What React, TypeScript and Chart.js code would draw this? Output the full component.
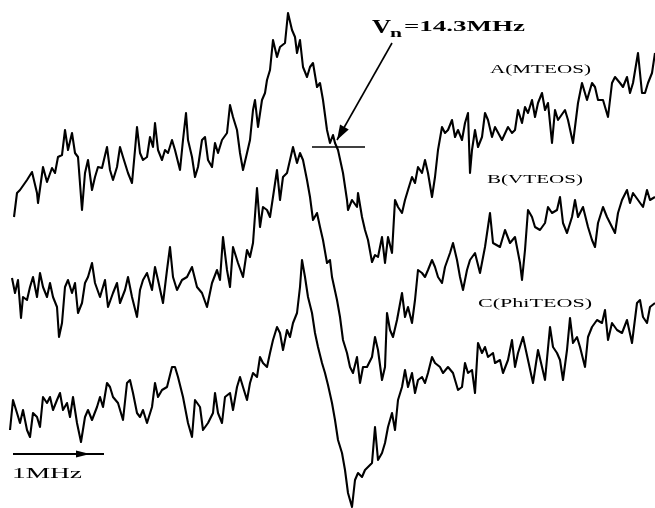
import React, { useEffect, useRef } from "react";
import { Chart, registerables } from "chart.js";

Chart.register(...registerables);

// Frequency channel (x) vs. signal amplitude in arbitrary units (y)
const traceA_MTEOS: [number, number][] = [
  [14,291],[17,315],[20,318],[27,328],[32,336],[37,315],[38,305],[43,341],[47,326],[52,340],[55,335],[58,351],[62,353],[65,378],[68,358],[72,375],[75,355],[78,351],[82,298],[85,335],[88,348],[92,318],[95,331],[98,341],[102,340],[107,361],[110,338],[113,328],[117,341],[120,361],[123,351],[128,335],[132,325],[135,358],[137,381],[140,355],[143,348],[147,351],[150,371],[153,361],[155,385],[158,358],[162,348],[165,358],[168,355],[172,368],[175,358],[180,338],[183,368],[186,395],[188,368],[192,351],[195,331],[198,341],[202,368],[205,371],[208,348],[212,341],[215,365],[218,355],[222,368],[227,375],[230,403],[233,391],[237,378],[240,355],[243,338],[247,355],[250,368],[253,398],[255,408],[258,381],[262,408],[265,415],[267,428],[270,438],[273,468],[277,451],[280,461],[285,465],[288,495],[292,478],[295,471],[297,455],[300,468],[303,441],[307,431],[310,441],[313,445],[317,421],[320,425],[323,408],[327,378],[330,365],[333,373],[335,365],[338,358],[343,335],[347,308],[348,298],[352,308],[357,301],[358,315],[362,291],[365,278],[368,268],[372,246],[375,253],[378,251],[382,271],[385,245],[388,271],[392,255],[395,308],[398,301],[402,295],[405,308],[408,318],[412,331],[415,325],[418,341],[422,335],[425,348],[428,335],[432,311],[435,331],[438,358],[442,381],[445,375],[448,378],[452,388],[455,371],[458,378],[462,368],[465,385],[468,395],[470,335],[472,358],[475,378],[478,361],[482,371],[485,395],[488,388],[492,371],[495,381],[502,368],[508,381],[512,375],[515,378],[518,398],[522,385],[525,401],[528,395],[532,408],[535,391],[538,405],[542,415],[545,398],[548,405],[552,365],[555,398],[558,388],[565,398],[568,388],[573,365],[578,405],[582,425],[587,408],[592,425],[595,421],[598,408],[603,408],[608,391],[612,425],[615,431],[620,425],[623,421],[627,431],[630,415],[633,425],[638,455],[642,415],[645,415],[648,425],[652,435],[655,455]
];

const traceB_VTEOS: [number, number][] = [
  [12,230],[15,215],[18,228],[21,190],[23,211],[27,208],[30,221],[33,231],[37,211],[40,235],[43,221],[47,211],[50,225],[53,211],[57,201],[59,171],[62,185],[65,221],[68,228],[72,215],[75,225],[78,195],[82,205],[85,225],[88,231],[92,245],[95,225],[100,211],[105,228],[108,201],[113,215],[117,225],[120,205],[125,218],[128,231],[132,211],[137,191],[140,218],[143,228],[147,235],[152,218],[155,241],[158,228],[163,205],[167,238],[170,261],[173,231],[177,218],[182,228],[187,231],[192,241],[197,221],[202,215],[207,201],[212,225],[217,238],[220,228],[223,271],[227,238],[230,221],[233,261],[238,245],[243,231],[247,258],[250,251],[253,265],[257,320],[260,281],[263,301],[267,298],[270,291],[273,311],[277,338],[280,308],[283,331],[287,335],[290,348],[293,361],[297,345],[300,355],[303,348],[307,328],[310,311],[313,288],[317,295],[320,281],[323,268],[327,245],[330,248],[332,231],[337,208],[340,191],[343,168],[347,155],[350,141],[353,135],[357,151],[360,125],[363,141],[367,141],[372,151],[375,171],[378,158],[382,128],[385,141],[387,195],[390,178],[393,171],[397,188],[402,215],[405,191],[408,201],[412,185],[415,208],[418,238],[422,235],[425,231],[428,238],[432,248],[435,241],[438,231],[442,225],[445,241],[450,255],[453,265],[457,248],[460,231],[463,218],[467,238],[470,248],[475,255],[480,235],[485,261],[490,295],[493,265],[500,261],[505,278],[510,265],[515,271],[520,245],[522,228],[525,258],[528,298],[532,291],[535,281],[540,278],[545,285],[548,301],[552,295],[557,298],[560,311],[563,285],[567,275],[572,291],[575,308],[578,291],[583,301],[588,281],[592,268],[595,261],[598,285],[603,301],[607,291],[612,281],[615,275],[618,295],[622,308],[627,318],[630,305],[633,315],[638,308],[643,301],[647,318],[650,308],[655,311]
];

const traceC_PhiTEOS: [number, number][] = [
  [10,78],[13,108],[17,95],[20,85],[23,98],[27,78],[30,71],[33,95],[37,91],[40,81],[43,111],[47,105],[50,111],[53,98],[57,108],[60,115],[63,98],[67,105],[70,91],[73,111],[77,85],[81,66],[85,91],[88,98],[92,88],[97,101],[100,111],[103,101],[107,125],[110,121],[113,111],[118,105],[123,88],[127,125],[130,128],[133,115],[137,95],[140,91],[143,98],[147,85],[152,101],[155,125],[158,111],[162,118],[167,121],[172,141],[175,141],[178,131],[183,111],[188,85],[192,71],[195,108],[200,101],[203,78],[208,85],[213,95],[215,115],[218,95],[222,85],[225,111],[230,115],[233,98],[237,121],[240,131],[243,121],[247,108],[250,125],[253,135],[257,131],[260,151],[263,145],[267,141],[270,155],[273,168],[277,181],[280,175],[283,158],[287,178],[290,171],[293,185],[297,195],[300,221],[302,248],[305,231],[308,211],[312,195],[315,175],[318,161],[322,145],[325,135],[328,123],[332,105],[335,88],[338,68],[342,55],[345,38],[348,15],[352,1],[355,28],[358,35],[362,31],[365,38],[368,41],[372,45],[375,81],[378,48],[382,55],[385,65],[388,81],[392,95],[395,78],[398,108],[402,121],[405,138],[408,121],[412,135],[415,115],[418,128],[422,131],[425,125],[428,135],[432,151],[435,145],[440,141],[443,135],[448,141],[453,135],[458,118],[462,121],[465,145],[468,135],[472,138],[475,115],[478,165],[482,155],[485,161],[488,151],[493,155],[495,145],[500,148],[503,135],[508,148],[512,168],[515,141],[518,155],[523,171],[528,148],[533,125],[538,158],[542,141],[545,128],[550,181],[553,161],[557,155],[560,148],[563,128],[567,158],[570,190],[573,165],[577,171],[580,161],[585,141],[588,171],[592,181],[597,188],[602,185],[605,198],[608,168],[612,185],[617,178],[622,175],[627,188],[632,165],[637,205],[640,208],[643,191],[647,185],[650,201],[655,205]
];

// resonance marker on trace A
const markerLine: [number, number][] = [[312, 361], [365, 361]];

const seriesLabels = ["A(MTEOS)", "B(VTEOS)", "C(PhiTEOS)"];
const resonanceLabel = { sym: "V", sub: "n", rest: "=14.3MHz" };
const scaleBarLabel = "1MHz";

const toPts = (a: [number, number][]) => a.map(([x, y]) => ({ x, y }));

const annotationPlugin = {
  id: "spectraAnnotations",
  afterDatasetsDraw(chart: any) {
    const ctx: CanvasRenderingContext2D = chart.ctx;
    const xs = chart.scales.x;
    const ys = chart.scales.y;
    const px = (v: number) => xs.getPixelForValue(v);
    const py = (v: number) => ys.getPixelForValue(v);

    const wideText = (text: string, x: number, y: number, font: string, width: number) => {
      ctx.save();
      ctx.font = font;
      const m = ctx.measureText(text).width;
      const sx = (px(x + width) - px(x)) / m;
      ctx.translate(px(x), py(y));
      ctx.scale(sx, 1);
      ctx.fillStyle = "#000";
      ctx.textBaseline = "alphabetic";
      ctx.textAlign = "left";
      ctx.fillText(text, 0, 0);
      ctx.restore();
    };

    const arrow = (x1: number, y1: number, x2: number, y2: number, head: number, half: number, lw: number) => {
      const ax = px(x1), ay = py(y1), bx = px(x2), by = py(y2);
      ctx.save();
      ctx.strokeStyle = "#000";
      ctx.fillStyle = "#000";
      ctx.lineWidth = lw;
      ctx.beginPath();
      ctx.moveTo(ax, ay);
      ctx.lineTo(bx, by);
      ctx.stroke();
      const ang = Math.atan2(by - ay, bx - ax);
      ctx.beginPath();
      ctx.moveTo(bx, by);
      ctx.lineTo(bx - head * Math.cos(ang) + half * Math.sin(ang), by - head * Math.sin(ang) - half * Math.cos(ang));
      ctx.lineTo(bx - head * Math.cos(ang) - half * Math.sin(ang), by - head * Math.sin(ang) + half * Math.cos(ang));
      ctx.closePath();
      ctx.fill();
      ctx.restore();
    };

    const serif = '"Liberation Serif", "DejaVu Serif", serif';

    // resonance label and arrow
    wideText(resonanceLabel.sym, 372, 475, `bold 19px ${serif}`, 19);
    wideText(resonanceLabel.sub, 390, 471, `bold 13px ${serif}`, 12);
    wideText(resonanceLabel.rest, 404, 477, `bold 15px ${serif}`, 121);
    arrow(392, 465, 337, 368, 15, 5, 1.6);

    // series labels
    wideText(seriesLabels[0], 490, 435, `12px ${serif}`, 101);
    wideText(seriesLabels[1], 487, 325, `12px ${serif}`, 96);
    wideText(seriesLabels[2], 478, 201, `12px ${serif}`, 114);

    // 1 MHz scale bar
    ctx.save();
    ctx.strokeStyle = "#000";
    ctx.lineWidth = 2;
    ctx.beginPath();
    ctx.moveTo(px(13), py(54));
    ctx.lineTo(px(104), py(54));
    ctx.stroke();
    ctx.beginPath();
    ctx.moveTo(px(90), py(54));
    ctx.lineTo(px(76), py(57.5));
    ctx.lineTo(px(76), py(50.5));
    ctx.closePath();
    ctx.fillStyle = "#000";
    ctx.fill();
    ctx.restore();
    wideText(scaleBarLabel, 12, 30, `15px ${serif}`, 70);
  },
};

export default function App() {
  const ref = useRef<HTMLCanvasElement>(null);
  useEffect(() => {
    document.body.style.margin = "0";
    const lineStyle = {
      borderColor: "#000",
      borderWidth: 2.1,
      pointRadius: 0,
      tension: 0,
      fill: false,
      borderJoinStyle: "round" as const,
      clip: false as any,
    };
    const chart = new Chart(ref.current!, {
      type: "line",
      data: {
        datasets: [
          { label: seriesLabels[0], data: toPts(traceA_MTEOS), ...lineStyle },
          { label: seriesLabels[1], data: toPts(traceB_VTEOS), ...lineStyle },
          { label: seriesLabels[2], data: toPts(traceC_PhiTEOS), ...lineStyle },
          { label: "marker", data: toPts(markerLine), ...lineStyle, borderWidth: 1.3 },
        ],
      },
      options: {
        animation: false,
        responsive: false,
        maintainAspectRatio: false,
        layout: { padding: 0 },
        scales: {
          x: { type: "linear", min: 0, max: 655, display: false },
          y: { type: "linear", min: 0, max: 508, display: false },
        },
        plugins: { legend: { display: false }, tooltip: { enabled: false } },
      },
      plugins: [annotationPlugin],
    });
    return () => chart.destroy();
  }, []);
  return (
    <div style={{ width: 655, height: 508, background: "#fff" }}>
      <canvas ref={ref} width={655} height={508} style={{ display: "block" }} />
    </div>
  );
}
